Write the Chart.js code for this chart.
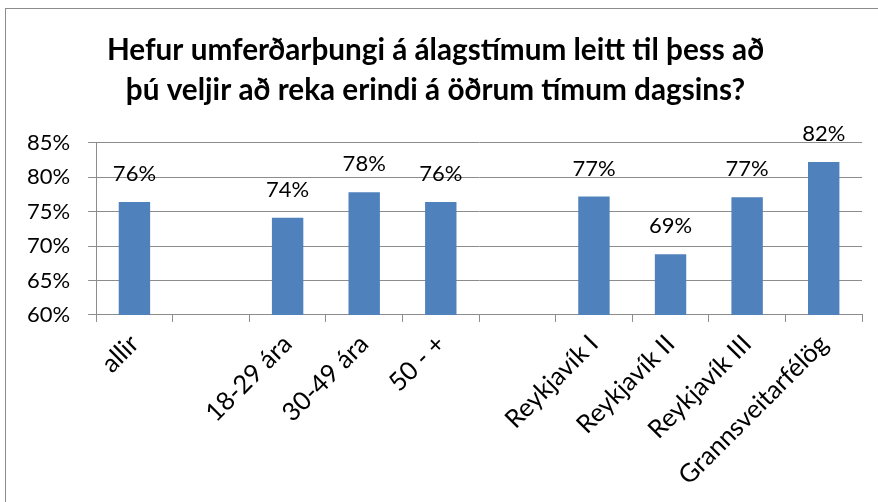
<!DOCTYPE html>
<html>
<head>
<meta charset="utf-8">
<script src="https://cdn.jsdelivr.net/npm/chart.js@4.4.0/dist/chart.umd.min.js"></script>
<style>
  html, body { margin: 0; padding: 0; background: #fff; }
  #wrap { position: absolute; left: 5px; top: 8px; width: 880px; height: 500px; border: 1px solid #8c8c8c; box-sizing: border-box; }
  #box { position: absolute; left: 0; top: 0; width: 878px; height: 502px; }
</style>
</head>
<body>
<div id="wrap"></div>
<div id="box"><canvas id="myChart" width="878" height="502"></canvas></div>
<script>
// categories (blank slots are the gaps between groups)
var labels = ['allir', '', '18-29 ára', '30-49 ára', '50 - +', '', 'Reykjavík I', 'Reykjavík II', 'Reykjavík III', 'Grannsveitarfélög'];
var values = [76.4, null, 74.1, 77.8, 76.4, null, 77.2, 68.8, 77.1, 82.2];
var yTicks = [60, 65, 70, 75, 80, 85];
var titleLines = ['Hefur umferðarþungi á álagstímum leitt til þess að', 'þú veljir að reka erindi á öðrum tímum dagsins?'];

var font = 'Lato, "Open Sans", sans-serif';

// value labels above bars, Excel style
var barLabels = {
    id: 'barLabels',
    afterDatasetsDraw: function(chart) {
        var c = chart.ctx;
        var meta = chart.getDatasetMeta(0);
        c.save();
        c.font = '22px ' + font;
        c.fillStyle = '#000';
        c.textAlign = 'center';
        c.textBaseline = 'middle';
        meta.data.forEach(function(bar, i) {
            if (values[i] == null) return;
            c.fillText(Math.round(values[i]) + '%', bar.x, bar.y - 28);
        });
        c.restore();
    }
};

var ctx = document.getElementById('myChart').getContext('2d');
var chart = new Chart(ctx, {
    type: 'bar',
    data: {
        labels: labels,
        datasets: [{
            data: values,
            backgroundColor: '#4f81bd',
            barPercentage: 0.41,
            categoryPercentage: 1
        }]
    },
    options: {
        responsive: false,
        animation: false,
        layout: { padding: { left: 9, right: 16, top: 10, bottom: 4 } },
        plugins: {
            legend: { display: false },
            tooltip: { enabled: false },
            title: {
                display: true,
                text: titleLines,
                color: '#000',
                font: { family: font, size: 29.7, weight: 'bold', lineHeight: 1.36 },
                padding: { top: 20, bottom: 32 }
            }
        },
        scales: {
            x: {
                grid: { display: true, drawOnChartArea: false, drawTicks: true, tickLength: 7, color: '#8c8c8c', offset: true },
                border: { color: '#8c8c8c' },
                ticks: {
                    color: '#000',
                    font: { family: font, size: 25.5 },
                    minRotation: 45,
                    maxRotation: 45,
                    autoSkip: false,
                    padding: 7
                }
            },
            y: {
                min: 60,
                max: 85,
                afterBuildTicks: function(axis) {
                    axis.ticks = yTicks.map(function(v) { return { value: v }; });
                },
                grid: { color: '#8c8c8c', tickLength: 8 },
                border: { color: '#8c8c8c' },
                ticks: {
                    color: '#000',
                    font: { family: font, size: 22 },
                    padding: 18,
                    autoSkip: false,
                    callback: function(v) { return v + '%'; }
                }
            }
        }
    },
    plugins: [barLabels]
});
</script>
</body>
</html>
